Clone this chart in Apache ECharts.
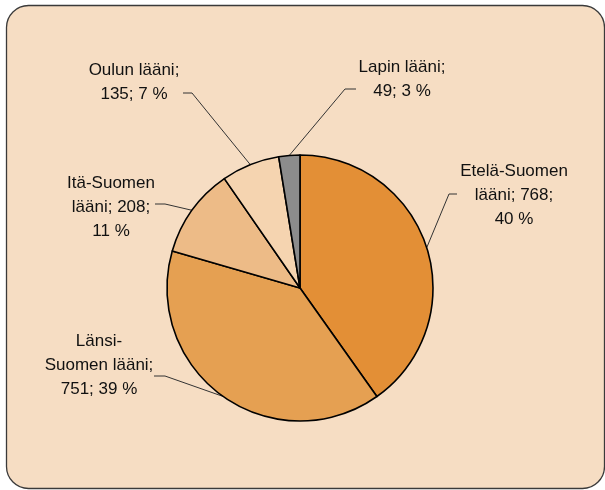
<!DOCTYPE html>
<html>
<head>
<meta charset="utf-8">
<script src="https://cdn.jsdelivr.net/npm/echarts@6/dist/echarts.min.js"></script>
<style>
html,body{margin:0;padding:0;background:#ffffff;}
#chart{width:605px;height:490px;}
</style>
</head>
<body>
<div id="chart"></div>
<script>
// Data
const names = ['Etelä-Suomen lääni', 'Länsi-Suomen lääni', 'Itä-Suomen lääni', 'Oulun lääni', 'Lapin lääni'];
const values = [768, 751, 208, 135, 49];
const colors = ['#E38F36', '#E5A052', '#EDBB87', '#F5D4B0', '#8C8C8C'];

// Label placement (layout only)
const labelPos = [
  {x: 514, y: 195, elbow: [449, 194], end: [457, 194]},
  {x: 99,  y: 365, elbow: [165, 376], end: [154, 376]},
  {x: 111, y: 207, elbow: [165, 204], end: [155, 204]},
  {x: 134, y: 82,  elbow: [192, 93],  end: [183, 93]},
  {x: 402, y: 79,  elbow: [345, 89],  end: [356, 89]}
];

function labelText(i, name, value, pct) {
  const p = Math.round(pct);
  const parts = name.split(' ');
  if (i === 1) {
    const first = parts[0].split('-');
    return first[0] + '-\n' + first[1] + ' ' + parts[1] + ';\n' + value + '; ' + p + ' %';
  }
  if (i === 0 || i === 2) {
    return parts[0] + '\n' + parts[1] + '; ' + value + ';\n' + p + ' %';
  }
  return name + ';\n' + value + '; ' + p + ' %';
}

const chart = echarts.init(document.getElementById('chart'), null, {renderer: 'canvas'});
chart.setOption({
  animation: false,
  backgroundColor: '#ffffff',
  graphic: [{
    type: 'rect',
    z: -10,
    shape: {x: 6.5, y: 5.5, width: 598, height: 483, r: 22},
    style: {fill: '#F6DDC3', stroke: '#3a3a3a', lineWidth: 1.3}
  }],
  series: [{
    type: 'pie',
    center: [300, 288],
    radius: 133,
    startAngle: 90,
    clockwise: true,
    avoidLabelOverlap: false,
    data: names.map((n, i) => ({name: n, value: values[i], itemStyle: {color: colors[i]}})),
    itemStyle: {borderColor: '#000000', borderWidth: 1.6},
    label: {
      show: true,
      position: 'outside',
      fontFamily: '"Liberation Sans", Arial, sans-serif',
      fontSize: 17,
      lineHeight: 24,
      color: '#111111',
      align: 'center',
      formatter: (p) => labelText(p.dataIndex, p.name, p.value, p.percent)
    },
    labelLine: {
      show: true,
      lineStyle: {color: '#333333', width: 1}
    },
    emphasis: {disabled: true},
    labelLayout: function (params) {
      const lp = labelPos[params.dataIndex];
      const start = params.labelLinePoints[0];
      return {
        x: lp.x,
        y: lp.y,
        align: 'center',
        verticalAlign: 'middle',
        labelLinePoints: [start, lp.elbow, lp.end]
      };
    }
  }]
});
</script>
</body>
</html>
